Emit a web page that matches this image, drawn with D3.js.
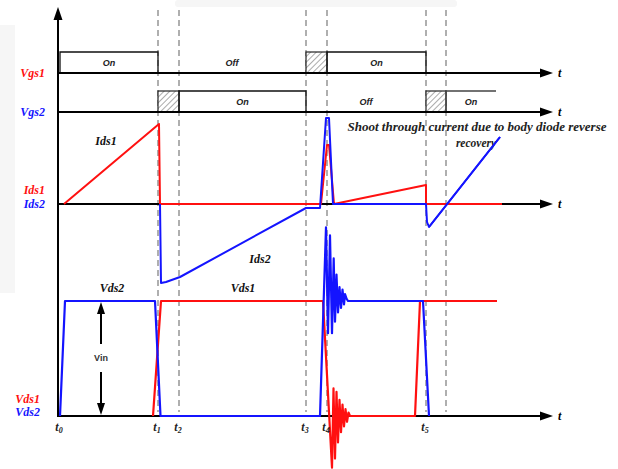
<!DOCTYPE html>
<html><head><meta charset="utf-8">
<script src="https://cdn.jsdelivr.net/npm/d3@7"></script>
<style>
html,body{margin:0;padding:0;background:#fff;}
svg{display:block;}
</style></head>
<body>
<script>
// ---------- data (time in arbitrary units) ----------
const tNames = ["0","1","2","3","4","5"];
const tTimes = [2, 100, 121, 248, 269, 368];
const dashTimes = [100, 121, 248, 269, 368, 388];

// gate signals: intervals
const vgs1On = [[2, 100], [269, 368]];
const vgs1OnOpen = [false, false];
const vgs1Dead = [[248, 269]];
const vgs1Off = [[100, 248]];
const vgs2On = [[121, 248], [388, 438]];
const vgs2OnOpen = [false, true];
const vgs2Dead = [[100, 121], [368, 388]];
const vgs2Off = [[248, 368]];

// drain currents (arbitrary units, 0 = axis)
const ids1T = [6, 101, 102, 263, 269, 271, 276, 368, 368, 444];
const ids1V = [0, 80, 0, 0, 59, 59, 0, 19, 0, 0];
const ids2T = [102, 103, 108, 122, 248, 262, 268, 271, 275, 368, 369, 371, 442];
const ids2V = [0, -79, -78, -73, -4, -4, 86, 86, 0, 0, -18, -23, 67];

// drain-source voltages (units of Vin)
const vds1T = [95, 103, 265, 274, 275.5, 277, 278.5, 280, 281.5, 283, 284.5, 286, 287.5, 289, 290.5, 292, 357, 362, 439];
const vds1V = [0, 1, 1, -0.45, 0.24, -0.37, 0.21, -0.23, 0.14, -0.14, 0.10, -0.09, 0.06, -0.05, 0.03, 0, 0, 1, 1];
const vds2T = [2, 7, 97, 102.5, 262, 268, 270, 272, 274, 275.7, 277, 278.5, 280, 281.5, 283, 284.5, 286, 287, 288.5, 290, 365, 371];
const vds2V = [0, 1, 1, 0, 0, 1.64, 0.72, 1.57, 0.72, 1.37, 0.82, 1.23, 0.90, 1.12, 0.94, 1.10, 0.97, 1.06, 1.02, 1, 1, 0];

const annotation = ["Shoot through current due to body diode reverse", "recovery"];

// ---------- drawing ----------
const W = 618, H = 469;
const svg = d3.select("body").append("svg").attr("width", W).attr("height", H);
const RED = "#ff1010", BLUE = "#1414ff";
const serif = "'Liberation Serif','Times New Roman',serif";
const sans = "'Liberation Sans',Arial,sans-serif";

// faint background panels as in the scanned figure
svg.append("rect").attr("x", 0).attr("y", 25).attr("width", 15).attr("height", 268).attr("fill", "#f6f6f6");
svg.append("rect").attr("x", 175).attr("y", 0).attr("width", 282).attr("height", 7).attr("rx", 3).attr("fill", "#f6f6f6");

const defs = svg.append("defs");
const pat = defs.append("pattern").attr("id", "hatch").attr("patternUnits", "userSpaceOnUse")
  .attr("width", 4).attr("height", 4).attr("patternTransform", "rotate(45)");
pat.append("rect").attr("width", 4).attr("height", 4).attr("fill", "#fff");
pat.append("line").attr("x1", 0).attr("y1", 0).attr("x2", 0).attr("y2", 4).attr("stroke", "#666").attr("stroke-width", 1.1);

const x = d3.scaleLinear().domain([0, 494]).range([58, 552]);
const AX = 58;
const yVgs1 = 73, yVgs2 = 112, boxH = 21;
const yIds = d3.scaleLinear().domain([0, 100]).range([204, 104]);
const yVds = d3.scaleLinear().domain([0, 1]).range([416, 301]);

// dashed time markers
svg.append("g").selectAll("line").data(dashTimes).join("line")
  .attr("x1", d => x(d)).attr("x2", d => x(d)).attr("y1", 10).attr("y2", 412)
  .attr("stroke", "#858585").attr("stroke-width", 1.3).attr("stroke-dasharray", "6,4");

// gate rows
function gateRow(yAxis, onI, onOpen, deadI, offI) {
  const g = svg.append("g");
  g.selectAll("rect.dead").data(deadI).join("rect")
    .attr("x", d => x(d[0])).attr("y", yAxis - boxH)
    .attr("width", d => x(d[1]) - x(d[0])).attr("height", boxH)
    .attr("fill", "url(#hatch)").attr("stroke", "#222").attr("stroke-width", 1.2);
  g.selectAll("path.on").data(onI).join("path")
    .attr("d", (d, i) => {
      const x0 = x(d[0]), x1 = x(d[1]), yt = yAxis - boxH;
      return onOpen[i] ? `M${x0},${yAxis}V${yt}H${x1}` : `M${x0},${yAxis}V${yt}H${x1}V${yAxis}`;
    })
    .attr("fill", "none").attr("stroke", (d, i) => onOpen[i] ? "#444" : "#111").attr("stroke-width", 1.3);
  const lab = onI.map(d => ({t: (d[0] + d[1]) / 2, s: "On"})).concat(offI.map(d => ({t: (d[0] + d[1]) / 2, s: "Off"})));
  g.selectAll("text").data(lab).join("text")
    .attr("x", d => x(d.t)).attr("y", yAxis - boxH / 2 + 3.5)
    .attr("text-anchor", "middle").attr("font-family", sans).attr("font-style", "italic")
    .attr("font-weight", "bold").attr("font-size", 9).attr("fill", "#222").text(d => d.s);
}
gateRow(yVgs1, vgs1On, vgs1OnOpen, vgs1Dead, vgs1Off);
gateRow(yVgs2, vgs2On, vgs2OnOpen, vgs2Dead, vgs2Off);

// axes
const axG = svg.append("g");
[yVgs1, yVgs2, yIds(0), yVds(0)].forEach(yy => {
  axG.append("line").attr("x1", AX).attr("x2", 545).attr("y1", yy).attr("y2", yy).attr("stroke", "#000").attr("stroke-width", 2);
  axG.append("path").attr("d", `M553,${yy}L540,${yy - 4.5}L540,${yy + 4.5}Z`).attr("fill", "#000");
  axG.append("text").attr("x", 558).attr("y", yy + 4).attr("font-family", serif).attr("font-style", "italic")
    .attr("font-weight", "bold").attr("font-size", 12).text("t");
});
axG.append("line").attr("x1", AX).attr("x2", AX).attr("y1", 417).attr("y2", 18).attr("stroke", "#000").attr("stroke-width", 2);
axG.append("path").attr("d", `M${AX},7L${AX - 4.5},20L${AX + 4.5},20Z`).attr("fill", "#000");

// traces
const pts = (T, V) => T.map((t, i) => [t, V[i]]);
const lineIds = d3.line().x(d => x(d[0])).y(d => yIds(d[1]));
const lineVds = d3.line().x(d => x(d[0])).y(d => yVds(d[1]));
const tr = svg.append("g").attr("fill", "none").attr("stroke-linejoin", "round");
tr.append("path").attr("d", lineIds(pts(ids1T, ids1V))).attr("stroke", RED).attr("stroke-width", 2);
tr.append("path").attr("d", lineIds(pts(ids2T, ids2V))).attr("stroke", BLUE).attr("stroke-width", 2);
tr.append("path").attr("d", lineVds(pts(vds1T, vds1V))).attr("stroke", RED).attr("stroke-width", 2.2);
tr.append("path").attr("d", lineVds(pts(vds2T, vds2V))).attr("stroke", BLUE).attr("stroke-width", 2.2);

// Vin double arrow
const vx = 101;
const va = svg.append("g");
va.append("line").attr("x1", vx).attr("x2", vx).attr("y1", 344).attr("y2", 312).attr("stroke", "#000").attr("stroke-width", 2);
va.append("path").attr("d", `M${vx},302L${vx - 4},314L${vx + 4},314Z`).attr("fill", "#000");
va.append("line").attr("x1", vx).attr("x2", vx).attr("y1", 372).attr("y2", 404).attr("stroke", "#000").attr("stroke-width", 2);
va.append("path").attr("d", `M${vx},415L${vx - 4},403L${vx + 4},403Z`).attr("fill", "#000");
va.append("text").attr("x", vx).attr("y", 361).attr("text-anchor", "middle").attr("font-family", sans)
  .attr("font-weight", "bold").attr("font-size", 9).attr("fill", "#333").text("Vin");

// labels
function lab(tx, ty, s, col, anchor, size) {
  svg.append("text").attr("x", tx).attr("y", ty).attr("text-anchor", anchor || "start")
    .attr("font-family", serif).attr("font-style", "italic").attr("font-weight", "bold")
    .attr("font-size", size || 12).attr("fill", col).text(s);
}
lab(45, 77, "Vgs1", RED, "end");
lab(45, 116, "Vgs2", BLUE, "end");
lab(45, 194, "Ids1", RED, "end");
lab(45, 208, "Ids2", BLUE, "end");
lab(40, 403, "Vds1", RED, "end");
lab(40, 416, "Vds2", BLUE, "end");
lab(106, 145, "Ids1", "#111", "middle");
lab(260, 263, "Ids2", "#111", "middle");
lab(112, 292, "Vds2", "#111", "middle");
lab(243, 292, "Vds1", "#111", "middle");

// time labels
const tl = svg.append("g");
tTimes.forEach((t, i) => {
  const tx = tl.append("text").attr("x", x(t) - 1).attr("y", 431).attr("text-anchor", "middle")
    .attr("font-family", serif).attr("font-style", "italic").attr("font-weight", "bold")
    .attr("font-size", 12).attr("fill", "#222");
  tx.append("tspan").text("t");
  tx.append("tspan").attr("font-size", 8).attr("dy", 2).text(tNames[i]);
});

// annotation
const an = svg.append("g");
an.append("text").attr("x", 477).attr("y", 131).attr("text-anchor", "middle").attr("font-family", serif)
  .attr("font-style", "italic").attr("font-weight", "bold").attr("font-size", 11.5).attr("fill", "#222")
  .attr("textLength", 259).attr("lengthAdjust", "spacingAndGlyphs").text(annotation[0]);
an.append("text").attr("x", 476).attr("y", 147).attr("text-anchor", "middle").attr("font-family", serif)
  .attr("font-style", "italic").attr("font-weight", "bold").attr("font-size", 11.5).attr("fill", "#222").text(annotation[1]);
// blue line drawn over annotation as in the figure
svg.append("path").attr("d", lineIds(pts(ids2T.slice(-2), ids2V.slice(-2)))).attr("stroke", BLUE)
  .attr("stroke-width", 2).attr("fill", "none");
</script>
</body></html>
